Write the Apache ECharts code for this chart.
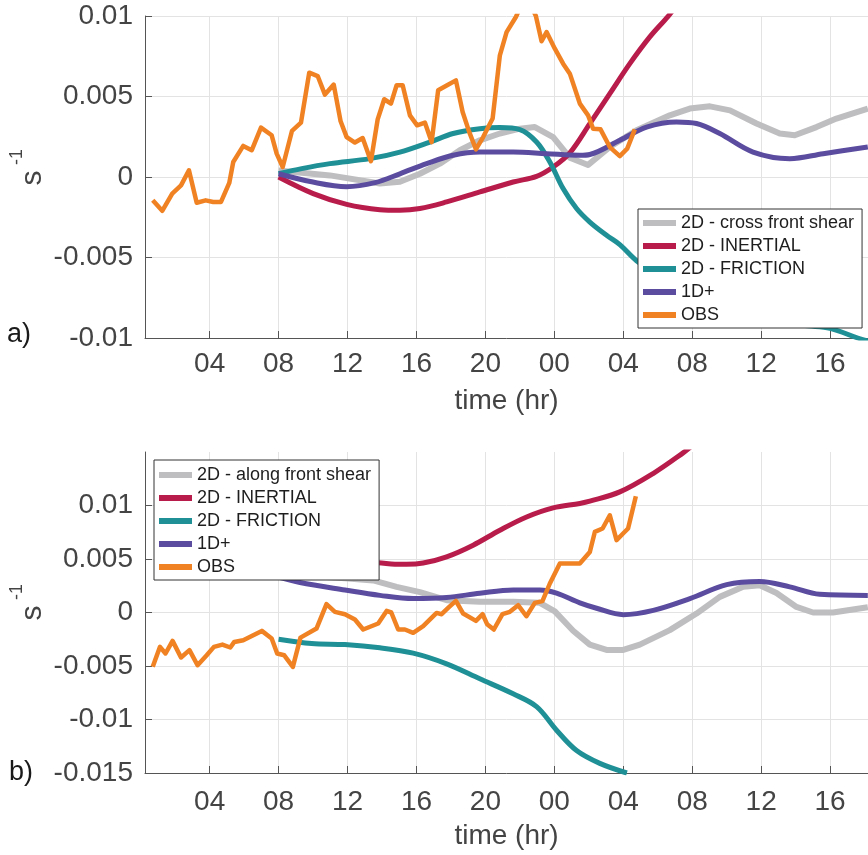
<!DOCTYPE html>
<html>
<head>
<meta charset="utf-8">
<script src="https://cdn.jsdelivr.net/npm/echarts@6/dist/echarts.min.js"></script>
<style>
html,body{margin:0;padding:0;background:#fff;}
#chart{width:868px;height:855px;}
</style>
</head>
<body>
<div id="chart"></div>
<script>
// ---- axis ticks ----
var xTickVals = [4, 8, 12, 16, 20, 24, 28, 32, 36, 40];
var xTickLabels = ['04', '08', '12', '16', '20', '00', '04', '08', '12', '16'];
var yTickValsA = [-0.01, -0.005, 0, 0.005, 0.01];
var yTickLabelsA = ['-0.01', '-0.005', '0', '0.005', '0.01'];
var yTickValsB = [-0.015, -0.01, -0.005, 0, 0.005, 0.01];
var yTickLabelsB = ['-0.015', '-0.01', '-0.005', '0', '0.005', '0.01'];

// ---- series names ----
var namesA = ['2D - cross front shear', '2D - INERTIAL', '2D - FRICTION', '1D+', 'OBS'];
var namesB = ['2D - along front shear', '2D - INERTIAL', '2D - FRICTION', '1D+', 'OBS'];

// ---- panel a) data: [time (hr), value (s^-1)] ----
var aShear = [[8.0,0.0004],[10.98,0.0001],[13.88,-0.0004],[15.04,-0.0003],[16.20,0.0002],[17.36,0.00083],[18.52,0.00166],[19.68,0.00228],[20.84,0.0027],[22.0,0.003],[22.87,0.0031],[23.93,0.00248],[24.90,0.0012],[25.96,0.00075],[27.22,0.00186],[28.77,0.0029],[30.70,0.00383],[31.86,0.00425],[33.03,0.00439],[34.19,0.00414],[35.73,0.00332],[37.08,0.0027],[37.95,0.00259],[39.21,0.0031],[40.37,0.00363],[42.19,0.00425]];
var aInertial = [[8.0,0],[10.01,-0.00103],[11.95,-0.0017],[13.88,-0.00203],[15.04,-0.00207],[16.20,-0.00196],[17.75,-0.00155],[19.68,-0.00093],[21.61,-0.00031],[22.97,0.00004],[23.93,0.00062],[24.90,0.0015],[26.06,0.00332],[27.22,0.00518],[28.38,0.00704],[29.54,0.0087],[30.6,0.00998],[31.2,0.0108]];
var aFriction = [[8.0,0.0002],[9.34,0.00052],[10.98,0.00083],[13.30,0.00114],[15.04,0.00155],[16.78,0.00217],[18.13,0.0027],[19.68,0.003],[20.84,0.00307],[22.0,0.00294],[22.97,0.00217],[23.74,0.00093],[24.51,-0.00072],[25.29,-0.00196],[26.06,-0.0028],[27.03,-0.00362],[27.80,-0.0042],[28.77,-0.0052],[30.12,-0.0062],[32.44,-0.0075],[35.34,-0.0085],[38.42,-0.0092],[40.0,-0.0094],[41.6,-0.0100],[42.2,-0.0102]];
var a1D = [[8.0,0.0002],[9.92,-0.0003],[11.95,-0.0006],[13.6,-0.00035],[15.04,0.0002],[16.59,0.00083],[18.13,0.00135],[19.68,0.00155],[21.61,0.00155],[23.55,0.00145],[25.48,0.00135],[26.06,0.0014],[27.80,0.00228],[29.35,0.0031],[31.09,0.00342],[32.25,0.00332],[33.6,0.0027],[35.53,0.00155],[37.66,0.00114],[39.6,0.00145],[42.19,0.00186]];
var aObs = [[0.70,-0.00145],[1.25,-0.0021],[1.83,-0.00103],[2.34,-0.00052],[2.80,0.00042],[3.25,-0.0016],[3.77,-0.00145],[4.21,-0.00155],[4.66,-0.00155],[5.14,-0.00037],[5.37,0.00093],[5.95,0.00193],[6.44,0.00166],[6.98,0.00307],[7.60,0.00259],[7.89,0.00145],[8.24,0.00062],[8.78,0.00287],[9.30,0.00338],[9.78,0.00648],[10.27,0.00627],[10.69,0.00512],[11.20,0.00574],[11.60,0.00346],[11.95,0.00248],[12.43,0.00214],[12.88,0.00242],[13.36,0.00098],[13.75,0.00358],[14.13,0.00483],[14.52,0.00456],[14.85,0.0057],[15.20,0.0057],[15.62,0.00383],[16.04,0.00321],[16.49,0.00338],[16.88,0.00217],[17.26,0.00539],[17.78,0.0057],[18.29,0.006],[18.68,0.00404],[19.06,0.0028],[19.45,0.00172],[19.87,0.00248],[20.42,0.00363],[20.84,0.00756],[21.23,0.009],[21.77,0.00994],[22.35,0.0113],[22.93,0.0100],[23.26,0.00843],[23.55,0.009],[24.03,0.00797],[24.51,0.00704],[24.90,0.00642],[25.48,0.00456],[25.96,0.00383],[26.25,0.003],[26.68,0.00296],[27.22,0.00186],[27.80,0.0013],[28.23,0.00176],[28.67,0.00296]];

// ---- panel b) data ----
var bShear = [[8.0,0.0036],[9.92,0.0034],[11.85,0.0032],[13.49,0.003],[14.85,0.0024],[16.20,0.0019],[17.75,0.00115],[19.68,0.001],[21.61,0.001],[23.16,0.0009],[24.03,0.0001],[25.09,-0.0017],[26.06,-0.0030],[27.03,-0.0035],[28.0,-0.0035],[28.96,-0.003],[30.70,-0.00165],[32.25,-0.0001],[33.6,0.00146],[34.96,0.0024],[35.92,0.00255],[36.89,0.00183],[38.05,0.00052],[39.01,0.0],[40.17,0.0],[42.19,0.0005]];
var bInertial = [[8.0,0.0052],[10.0,0.0049],[12.0,0.0047],[13.78,0.00464],[14.75,0.00451],[15.43,0.0045],[16.39,0.00462],[17.75,0.0052],[19.29,0.00629],[20.84,0.00769],[22.39,0.00893],[23.93,0.00978],[25.48,0.01019],[26.06,0.0104],[27.80,0.01127],[29.73,0.01299],[31.47,0.01492],[32.0,0.0156]];
var bFriction = [[8.0,-0.0025],[9.92,-0.0029],[11.85,-0.0030],[13.88,-0.0033],[15.81,-0.0038],[17.75,-0.0048],[19.68,-0.0062],[21.61,-0.0076],[22.97,-0.0088],[24.13,-0.011],[25.29,-0.0129],[26.64,-0.0141],[28.21,-0.0150]];
var b1D = [[8.0,0.0033],[9.24,0.0028],[11.85,0.0021],[13.88,0.0016],[15.81,0.0013],[17.75,0.0014],[19.68,0.0018],[21.61,0.0021],[23.16,0.0021],[24.13,0.0018],[25.48,0.0009],[26.45,0.0004],[28.0,-0.0002],[29.74,0.0002],[31.87,0.0013],[34.0,0.0026],[35.92,0.0029],[37.66,0.0024],[39.4,0.0017],[42.19,0.0016]];
var bObs = [[0.70,-0.00508],[1.12,-0.00321],[1.44,-0.00383],[1.85,-0.00265],[2.34,-0.0042],[2.83,-0.00352],[3.30,-0.00493],[3.83,-0.004],[4.25,-0.00321],[4.74,-0.003],[5.20,-0.00327],[5.43,-0.00275],[5.95,-0.00259],[6.53,-0.00212],[7.03,-0.00172],[7.60,-0.00243],[7.92,-0.00383],[8.33,-0.004],[8.83,-0.00508],[9.27,-0.00235],[10.20,-0.0015],[10.78,0.00078],[11.27,0.00006],[11.85,-0.00016],[12.43,-0.00065],[12.91,-0.00159],[13.78,-0.00103],[14.27,0.00015],[14.54,0.0],[14.94,-0.00159],[15.33,-0.00159],[15.81,-0.0019],[16.39,-0.00128],[17.17,-0.00004],[17.46,-0.00016],[17.90,0.00052],[18.29,0.00108],[18.71,-0.0001],[19.45,-0.00078],[19.84,-0.00016],[20.10,-0.00109],[20.49,-0.00159],[20.99,-0.00016],[21.42,0.00006],[21.90,0.00068],[22.38,-0.00035],[22.87,0.0009],[23.31,0.00106],[23.74,0.00271],[24.32,0.00458],[25.48,0.00458],[26.06,0.00566],[26.35,0.00753],[26.80,0.00785],[27.22,0.00909],[27.61,0.00676],[27.99,0.00738],[28.28,0.00785],[28.73,0.01087]];

// ---- styling ----
var colors = ['#bebec1', '#b81c4a', '#1f9096', '#5b4ca0', '#f08223'];
var widths = [6, 5, 5, 5, 4.5];
var smooths = [false, 0.35, 0.35, 0.35, false];
var FONT = "'Liberation Sans', Arial, Helvetica, sans-serif";
var AX = '#555555', TXT = '#444444', GRID = '#e3e3e3';

function xAxisCfg(gi, labelMargin) {
  return {
    type: 'value', gridIndex: gi, min: 0.25, max: 42.2,
    name: 'time (hr)', nameLocation: 'middle', nameGap: 49,
    nameTextStyle: { fontSize: 28, color: TXT, fontFamily: FONT },
    axisLine: { show: true, onZero: false, lineStyle: { color: AX, width: 1 } },
    axisTick: { show: true, inside: true, length: 7, customValues: xTickVals, lineStyle: { color: AX } },
    axisLabel: { customValues: xTickVals, margin: labelMargin, fontSize: 28, color: TXT, fontFamily: FONT,
      formatter: function (v) { var i = xTickVals.indexOf(Math.round(v)); return i >= 0 ? xTickLabels[i] : ''; } },
    splitLine: { show: true, lineStyle: { color: GRID, width: 1 } }
  };
}
function yAxisCfg(gi, mn, mx, vals, labs) {
  return {
    type: 'value', gridIndex: gi, min: mn, max: mx,
    axisLine: { show: true, onZero: false, lineStyle: { color: AX, width: 1 } },
    axisTick: { show: true, inside: true, length: 7, customValues: vals, lineStyle: { color: AX } },
    axisLabel: { customValues: vals, margin: 12, fontSize: 28, color: TXT, fontFamily: FONT,
      formatter: function (v) {
        for (var i = 0; i < vals.length; i++) { if (Math.abs(vals[i] - v) < 1e-9) return labs[i]; }
        return '';
      } },
    splitLine: { show: true, lineStyle: { color: GRID, width: 1 } }
  };
}

var seriesA = [aShear, aInertial, aFriction, a1D, aObs];
var seriesB = [bShear, bInertial, bFriction, b1D, bObs];
var series = [];
[seriesA, seriesB].forEach(function (set, gi) {
  var names = gi === 0 ? namesA : namesB;
  set.forEach(function (d, k) {
    series.push({
      type: 'line', name: names[k], xAxisIndex: gi, yAxisIndex: gi, data: d,
      showSymbol: false, symbol: 'none', smooth: smooths[k], clip: true,
      color: colors[k],
      lineStyle: { color: colors[k], width: widths[k], join: 'round' },
      emphasis: { disabled: true }, silent: true
    });
  });
});

function legendCfg(names, left, top, pad) {
  return {
    orient: 'vertical', left: left, top: top, data: names, selectedMode: false,
    icon: 'rect', itemWidth: 33, itemHeight: 6, itemGap: 5,
    padding: pad, backgroundColor: '#ffffff', borderColor: '#333333', borderWidth: 1, borderRadius: 0,
    textStyle: { fontSize: 18, color: '#1e1e1e', fontFamily: FONT }, z: 10
  };
}

function txt(x, y, s, size, rot, color) {
  return { type: 'text', x: x, y: y, rotation: rot || 0, z: 20,
    style: { text: s, fontSize: size, fontFamily: FONT, fill: color || TXT, align: 'center', verticalAlign: 'middle' } };
}

var option = {
  animation: false,
  backgroundColor: '#ffffff',
  grid: [
    { left: 145, top: 16, width: 723, height: 322 },
    { left: 145, top: 452, width: 723, height: 321 }
  ],
  xAxis: [xAxisCfg(0, 12), xAxisCfg(1, 15)],
  yAxis: [yAxisCfg(0, -0.01, 0.01, yTickValsA, yTickLabelsA), yAxisCfg(1, -0.015, 0.015, yTickValsB, yTickLabelsB)],
  legend: [legendCfg(namesA, 638, 209, [5, 8, 4, 5]), legendCfg(namesB, 154, 460, [6, 8, 4, 5])],
  series: series,
  graphic: [
    txt(33, 178, 's', 30, Math.PI / 2),
    txt(17, 157, '-1', 18, Math.PI / 2),
    txt(33, 613, 's', 30, Math.PI / 2),
    txt(17, 592, '-1', 18, Math.PI / 2),
    txt(19, 335, 'a)', 27, 0, '#1a1a1a'),
    txt(21, 773, 'b)', 27, 0, '#1a1a1a')
  ]
};

var chart = echarts.init(document.getElementById('chart'), null, { renderer: 'canvas' });
chart.setOption(option);
</script>
</body>
</html>
